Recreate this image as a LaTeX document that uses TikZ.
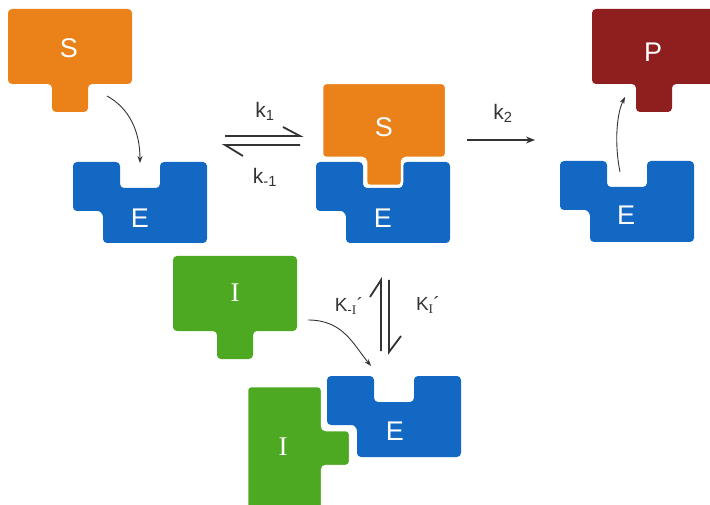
\documentclass[tikz,border=0pt]{standalone}
\usepackage{fontspec}
\setmainfont{Liberation Sans}
\newfontfamily\romanI{Liberation Serif}
\usetikzlibrary{arrows.meta}

\definecolor{subsorange}{HTML}{EA8219}
\definecolor{enzblue}{HTML}{1368C4}
\definecolor{prodred}{HTML}{8F1E1E}
\definecolor{inhgreen}{HTML}{4DA822}
\definecolor{arrowgray}{HTML}{333333}

\begin{document}
\begin{tikzpicture}[x=1pt,y=-1pt,
    % block with a peg underneath (substrate, product, inhibitor)
    ligand/.pic={
      \path[pic actions, rounded corners=4pt] (0,0) -- (124,0) -- (124,75)
        -- (80,75) -- (80,103) -- (44,103) -- (44,75) -- (0,75) -- cycle;
    },
    % enzyme with the active site on top and the side pocket bottom left
    enzyme/.pic={
      \path[pic actions, rounded corners=4pt] (0,0) -- (47,0) -- (47,26)
        -- (87,26) -- (87,0) -- (134,0) -- (134,81) -- (30,81) -- (30,59)
        .. controls (30,52) and (27,49) .. (21,49) -- (0,49) -- cycle;
    },
    gap/.style={draw=white, line width=2.5pt},
    letter/.style={text=white, font=\fontsize{27}{27}\selectfont},
    roman/.style={letter, font=\romanI\fontsize{27}{27}\selectfont},
    rate/.style={text=arrowgray, font=\fontsize{21}{21}\selectfont},
    bind/.style={draw=arrowgray, line width=0.9pt, -{Stealth[length=7pt,width=5pt]}},
    harpoon/.style={draw=arrowgray, line width=1.8pt}
  ]

  \useasboundingbox (0,0) rectangle (710,505);
  \clip (0,0) rectangle (710,505);

  % S + E
  \pic[fill=subsorange] at (8,9) {ligand};
  \node[letter] (sfree) at (69,48) {S};
  \pic[fill=enzblue] at (73,162) {enzyme};
  \node[letter] (efree) at (140,218) {E};

  \coordinate (stail) at (107,96);
  \coordinate (esite) at (140,163);
  \draw[bind] (stail) .. controls +(22,12) and +(0,-32) .. (esite);

  % k1 / k-1 equilibrium
  \coordinate (eqa) at (225,136);
  \coordinate (eqb) at (300,136);
  \coordinate (eqc) at (300,145);
  \coordinate (eqd) at (225,145);
  \draw[harpoon] (eqa) -- (eqb) -- ++(-17,-9);
  \draw[harpoon] (eqc) -- (eqd) -- ++(18,11);
  \node[rate] (kon) at (265,111) {k\textsubscript{1}};
  \node[rate] (koff) at (265,177) {k\textsubscript{-1}};

  % ES complex
  \pic[fill=enzblue] at (316,162) {enzyme};
  \node[letter] (ecomp) at (383,218) {E};
  \pic[fill=subsorange, gap] at (322,83) {ligand};
  \node[letter] (scomp) at (384,127) {S};

  % k2
  \coordinate (cata) at (467,140);
  \coordinate (catb) at (535,140);
  \draw[bind, line width=1.2pt, -{Stealth[length=9pt,width=7pt]}] (cata) -- (catb);
  \node[rate] (kcat) at (503,113) {k\textsubscript{2}};

  % E + P
  \pic[fill=prodred] at (592,9) {ligand};
  \node[letter] (pfree) at (653,52) {P};
  \pic[fill=enzblue] at (560,161) {enzyme};
  \node[letter] (eback) at (626,215) {E};

  \coordinate (pleave) at (620,172);
  \coordinate (ptail) at (625,97);
  \draw[bind] (pleave) .. controls +(-6,-30) and +(-8,16) .. (ptail);

  % inhibitor equilibrium
  \coordinate (inha) at (381,351);
  \coordinate (inhb) at (381,280);
  \coordinate (inhc) at (389,280);
  \coordinate (inhd) at (389,352);
  \draw[harpoon] (inha) -- (inhb) -- ++(-11,17);
  \draw[harpoon] (inhc) -- (inhd) -- ++(12,-16);
  \node[rate, font=\fontsize{19}{19}\selectfont] (kioff) at (349,306) {K\textsubscript{-{\romanI I}}´};
  \node[rate, font=\fontsize{19}{19}\selectfont] (kion) at (428,305) {K\textsubscript{{\romanI I}}´};

  % free inhibitor
  \pic[fill=inhgreen] at (173,256) {ligand};
  \node[roman] (ifree) at (235,293) {I};

  \coordinate (itail) at (308,320);
  \coordinate (isite) at (371,366);
  \draw[bind] (itail) .. controls +(35,0) and +(-18,-22) .. (isite);

  % EI complex, inhibitor turned on its side
  \pic[fill=enzblue] at (327,376) {enzyme};
  \node[letter] (einh) at (395,431) {E};
  \pic[fill=inhgreen, gap, rotate=90] at (247,510) {ligand};
  \node[roman] (icomp) at (283,447) {I};

\end{tikzpicture}
\end{document}
